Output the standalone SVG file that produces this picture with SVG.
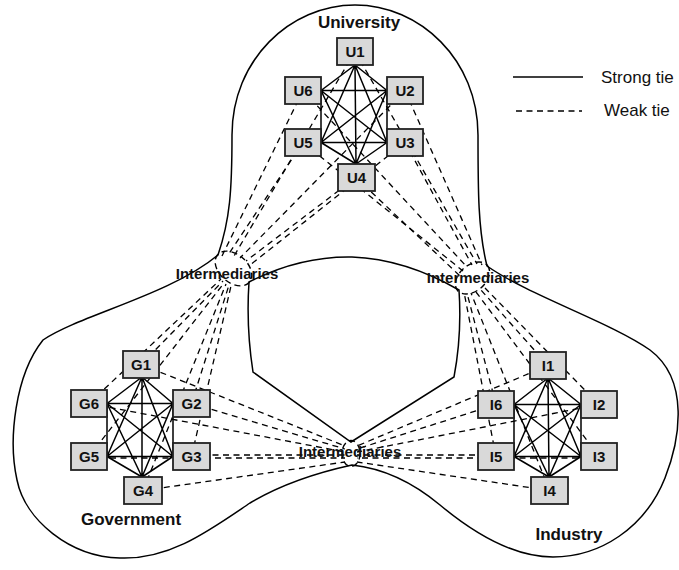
<svg xmlns="http://www.w3.org/2000/svg" width="679" height="570" viewBox="0 0 679 570">
<style>
.outline{fill:none;stroke:#000;stroke-width:1.5}
.ring{fill:none;stroke:#000;stroke-width:1.4;stroke-dasharray:6 4}
.weak{stroke:#000;stroke-width:1.3;stroke-dasharray:6 4.5;fill:none}
.strong{stroke:#000;stroke-width:1.5;fill:none}
.box{fill:#d9d9d9;stroke:#222;stroke-width:1.8}
.nl{font-family:'Liberation Sans',Arial,sans-serif;font-weight:bold;font-size:15px;fill:#111;text-anchor:middle}
.gl{font-family:'Liberation Sans',Arial,sans-serif;font-weight:bold;font-size:17px;fill:#111;text-anchor:middle}
.il{font-family:'Liberation Sans',Arial,sans-serif;font-weight:bold;font-size:15px;fill:#111;text-anchor:middle}
.lg{font-family:'Liberation Sans',Arial,sans-serif;font-size:17px;fill:#111}
</style>
<rect width="679" height="570" fill="#fff"/>
<g id="regions">
<path class="outline" d="M218,255 C230,220 232,190 232,135 C232,60 290,5 355,5 C420,5 478,60 478,135 C478,190 478,230 487,266 C530,296 610,322 650,350 C690,380 680,440 665,478 C645,528 600,557 553,557 C510,557 470,530 440,505 C410,480 380,468 352,465 C320,472 280,485 250,503 C210,530 170,560 120,558 C70,557 25,520 17,480 C8,440 15,375 43,340 C80,315 170,295 218,255 Z"/>
<path class="outline" d="M249,282 Q300,256 352,257 Q405,259 459,290 Q462,335 454,377 L351,442 L253,372 Q246,327 249,282 Z"/>
</g>
<g id="connectors">
<g id="weak-ties">
<line class="weak" x1="303" y1="90.5" x2="222" y2="256"/>
<line class="weak" x1="303" y1="142.5" x2="228" y2="255"/>
<line class="weak" x1="355" y1="51.5" x2="234" y2="256"/>
<line class="weak" x1="405" y1="90.5" x2="240" y2="258"/>
<line class="weak" x1="356" y1="177.5" x2="246" y2="261"/>
<line class="weak" x1="405" y1="142.5" x2="250" y2="265"/>
<line class="weak" x1="89" y1="403.5" x2="221" y2="279"/>
<line class="weak" x1="141" y1="364.5" x2="223" y2="281"/>
<line class="weak" x1="89" y1="456.5" x2="224" y2="283"/>
<line class="weak" x1="143" y1="490.5" x2="226" y2="284"/>
<line class="weak" x1="191.5" y1="403.5" x2="229" y2="285"/>
<line class="weak" x1="191.5" y1="456.5" x2="231" y2="286"/>
<line class="weak" x1="405" y1="90.5" x2="482" y2="265"/>
<line class="weak" x1="355" y1="51.5" x2="477" y2="264"/>
<line class="weak" x1="405" y1="142.5" x2="472" y2="265"/>
<line class="weak" x1="303" y1="90.5" x2="467" y2="267"/>
<line class="weak" x1="303" y1="142.5" x2="463" y2="271"/>
<line class="weak" x1="356" y1="177.5" x2="460" y2="276"/>
<line class="weak" x1="496" y1="456.5" x2="464" y2="292"/>
<line class="weak" x1="496" y1="404.5" x2="467" y2="293"/>
<line class="weak" x1="549.5" y1="490.5" x2="471" y2="293"/>
<line class="weak" x1="599" y1="456.5" x2="476" y2="292"/>
<line class="weak" x1="548" y1="365.5" x2="481" y2="290"/>
<line class="weak" x1="599" y1="404.5" x2="485" y2="288"/>
<line class="weak" x1="141" y1="364.5" x2="345" y2="446"/>
<line class="weak" x1="191.5" y1="403.5" x2="345" y2="449"/>
<line class="weak" x1="89" y1="403.5" x2="345" y2="452"/>
<line class="weak" x1="191.5" y1="455" x2="345" y2="455"/>
<line class="weak" x1="89" y1="458" x2="345" y2="458"/>
<line class="weak" x1="143" y1="490.5" x2="345" y2="462"/>
<line class="weak" x1="548" y1="365.5" x2="357" y2="446"/>
<line class="weak" x1="496" y1="404.5" x2="357" y2="449"/>
<line class="weak" x1="599" y1="404.5" x2="357" y2="452"/>
<line class="weak" x1="496" y1="455" x2="357" y2="455"/>
<line class="weak" x1="599" y1="458" x2="357" y2="458"/>
<line class="weak" x1="549.5" y1="490.5" x2="357" y2="462"/>
</g>
<g id="strong-ties">
<path class="strong" d="M355,65 L321,90.5 M355,65 L387,90.5 M355,65 L321,142.5 M355,65 L387,142.5 M355,65 L356,164 M321,90.5 L387,90.5 M321,90.5 L321,142.5 M321,90.5 L387,142.5 M321,90.5 L356,164 M387,90.5 L321,142.5 M387,90.5 L387,142.5 M387,90.5 L356,164 M321,142.5 L387,142.5 M321,142.5 L356,164 M387,142.5 L356,164"/>
<path class="strong" d="M142,377 L107,403.5 M142,377 L173,403.5 M142,377 L107,456.5 M142,377 L173,456.5 M142,377 L142,477 M107,403.5 L173,403.5 M107,403.5 L107,456.5 M107,403.5 L173,456.5 M107,403.5 L142,477 M173,403.5 L107,456.5 M173,403.5 L173,456.5 M173,403.5 L142,477 M107,456.5 L173,456.5 M107,456.5 L142,477 M173,456.5 L142,477"/>
<path class="strong" d="M548,378 L514,404.5 M548,378 L581,404.5 M548,378 L514,456.5 M548,378 L581,456.5 M548,378 L549,477 M514,404.5 L581,404.5 M514,404.5 L514,456.5 M514,404.5 L581,456.5 M514,404.5 L549,477 M581,404.5 L514,456.5 M581,404.5 L581,456.5 M581,404.5 L549,477 M514,456.5 L581,456.5 M514,456.5 L549,477 M581,456.5 L549,477"/>
</g>
<g id="intermediary-rings">
<ellipse class="ring" cx="233.5" cy="268.5" rx="21" ry="14" transform="rotate(41 233.5 268.5)"/>
<ellipse class="ring" cx="472.5" cy="278" rx="19.5" ry="13" transform="rotate(-40 472.5 278)"/>
<ellipse class="ring" cx="351" cy="453.5" rx="9" ry="13"/>
</g>
</g>
<g id="U1"><rect class="box" x="337" y="38" width="36" height="27"/><text class="nl" x="355" y="57">U1</text></g>
<g id="U2"><rect class="box" x="387" y="77" width="36" height="27"/><text class="nl" x="405" y="96">U2</text></g>
<g id="U3"><rect class="box" x="387" y="129" width="36" height="27"/><text class="nl" x="405" y="148">U3</text></g>
<g id="U4"><rect class="box" x="338" y="164" width="37" height="27"/><text class="nl" x="356.5" y="183">U4</text></g>
<g id="U5"><rect class="box" x="285" y="129" width="36" height="27"/><text class="nl" x="303" y="148">U5</text></g>
<g id="U6"><rect class="box" x="285" y="77" width="36" height="27"/><text class="nl" x="303" y="96">U6</text></g>
<g id="G1"><rect class="box" x="123" y="351" width="36" height="27"/><text class="nl" x="141" y="370">G1</text></g>
<g id="G2"><rect class="box" x="173" y="390" width="37" height="27"/><text class="nl" x="191.5" y="409">G2</text></g>
<g id="G3"><rect class="box" x="173" y="443" width="37" height="27"/><text class="nl" x="191.5" y="462">G3</text></g>
<g id="G4"><rect class="box" x="124" y="477" width="38" height="27"/><text class="nl" x="143" y="496">G4</text></g>
<g id="G5"><rect class="box" x="71" y="443" width="36" height="27"/><text class="nl" x="89" y="462">G5</text></g>
<g id="G6"><rect class="box" x="71" y="390" width="36" height="27"/><text class="nl" x="89" y="409">G6</text></g>
<g id="I1"><rect class="box" x="530" y="352" width="36" height="27"/><text class="nl" x="548" y="371">I1</text></g>
<g id="I2"><rect class="box" x="581" y="391" width="36" height="27"/><text class="nl" x="599" y="410">I2</text></g>
<g id="I3"><rect class="box" x="581" y="443" width="36" height="27"/><text class="nl" x="599" y="462">I3</text></g>
<g id="I4"><rect class="box" x="531" y="477" width="37" height="27"/><text class="nl" x="549.5" y="496">I4</text></g>
<g id="I5"><rect class="box" x="478" y="443" width="36" height="27"/><text class="nl" x="496" y="462">I5</text></g>
<g id="I6"><rect class="box" x="478" y="391" width="36" height="27"/><text class="nl" x="496" y="410">I6</text></g>
<g id="labels">
<text class="gl" x="359" y="28">University</text>
<text class="gl" x="131" y="525">Government</text>
<text class="gl" x="569" y="540">Industry</text>
<text class="il" x="227" y="279">Intermediaries</text>
<text class="il" x="478" y="283">Intermediaries</text>
<text class="il" x="350" y="457">Intermediaries</text>
</g>
<g id="legend">
<line class="strong" x1="513" y1="77" x2="583" y2="77"/>
<text class="lg" x="601" y="83">Strong tie</text>
<line class="weak" x1="516" y1="111" x2="582" y2="111"/>
<text class="lg" x="604" y="116">Weak tie</text>
</g>
</svg>
